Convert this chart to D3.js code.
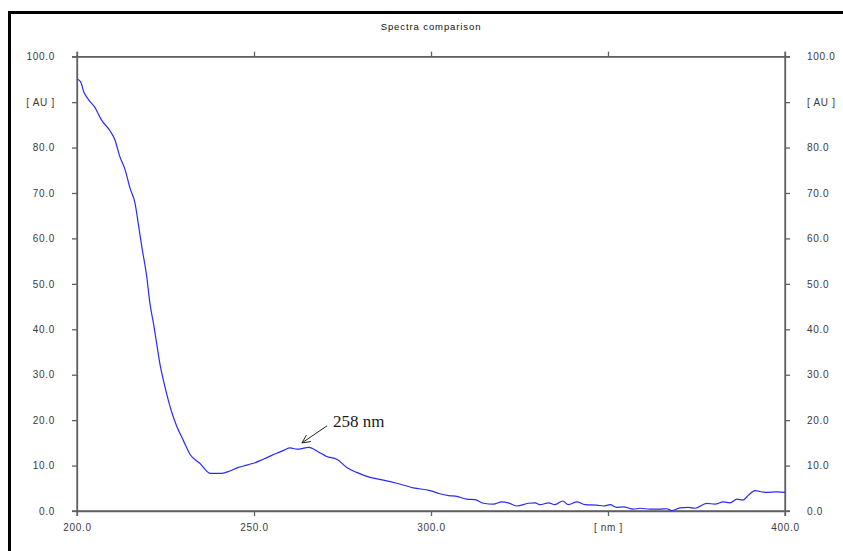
<!DOCTYPE html>
<html>
<head>
<meta charset="utf-8">
<script src="https://cdn.jsdelivr.net/npm/d3@7"></script>
<style>
  html, body { margin: 0; padding: 0; background: #fff; }
  svg { display: block; }
  .tick-label { font-family: "Liberation Sans", Arial, sans-serif; font-size: 10px; fill: #3a3a3a; letter-spacing: 0.7px; }
</style>
</head>
<body>
<script>
// Spectrum: wavelength [nm] and absorbance [AU]
const wavelengths = [
  200, 201, 201.9, 203.2, 205, 206.9, 209.3, 210.7, 212.1, 213.6, 215, 216.4, 217.3, 218.3,
  219.7, 220.6, 221.6, 222.5, 223.4, 224.4, 225.3, 226.7, 228.2, 230, 231.9, 234.7, 237.6,
  240.9, 243.2, 245.6, 247, 249.8, 252.6, 256.4, 258.5, 260.2, 262.1, 265.5, 268.2, 270.5,
  273.4, 276.2, 279, 282.8, 286.5, 290.3, 295, 299.7, 302.5, 305, 307.3, 310.1, 312.4, 314.8,
  317.6, 320, 321.8, 324.2, 327.5, 329.4, 330.8, 333.2, 335, 337.2, 338.8, 341.2, 343.5,
  346.8, 348.7, 350.6, 352.4, 354.3, 357.2, 359.1, 361.9, 364.7, 366.6, 368, 370.3, 372.7,
  374.6, 377.9, 380.2, 382.6, 384.5, 386.4, 388.1, 389.7, 391.5, 394.4, 397.7, 400
];
const absorbance = [
  95.1, 94.5, 92.3, 90.6, 88.9, 86.1, 83.7, 81.7, 78.0, 75.1, 71.0, 67.7, 63.3, 58.2,
  51.6, 45.7, 41.3, 36.9, 32.5, 28.8, 25.9, 21.9, 18.6, 15.6, 12.5, 10.5, 8.3,
  8.3, 8.8, 9.6, 9.9, 10.5, 11.4, 12.7, 13.4, 13.9, 13.6, 14.0, 13.0, 12.0,
  11.4, 9.6, 8.5, 7.4, 6.8, 6.1, 5.1, 4.5, 3.8, 3.4, 3.2, 2.6, 2.5, 1.7,
  1.5, 2.0, 1.8, 1.1, 1.7, 1.8, 1.4, 1.8, 1.4, 2.2, 1.4, 2.0, 1.4,
  1.3, 1.1, 1.4, 0.8, 0.9, 0.4, 0.6, 0.4, 0.4, 0.5, 0.1, 0.7, 0.8,
  0.6, 1.7, 1.5, 2.0, 1.8, 2.6, 2.4, 3.5, 4.5, 4.1, 4.2, 4.1
];

// Axis ticks and their labels
const yTicks = [0, 10, 20, 30, 40, 50, 60, 70, 80, 90, 100];
const yTickLabels = ["0.0", "10.0", "20.0", "30.0", "40.0", "50.0", "60.0", "70.0", "80.0", "[ AU ]", "100.0"];
const xTicks = [200, 250, 300, 350, 400];
const xTickLabels = ["200.0", "250.0", "300.0", "[ nm ]", "400.0"];

const chartTitle = "Spectra comparison";
const peakLabel = "258 nm";
const peakWavelength = 263.4;
const peakValue = 14.0;

const W = 843, H = 551;
const svg = d3.select("body").append("svg").attr("width", W).attr("height", H);

// Outer frame (top and left edges)
svg.append("rect").attr("x", 8).attr("y", 11).attr("width", W - 8).attr("height", 3).attr("fill", "#000");
svg.append("rect").attr("x", 8).attr("y", 11).attr("width", 3).attr("height", H - 11).attr("fill", "#000");

const x = d3.scaleLinear().domain([200, 400]).range([77, 785]);
const y = d3.scaleLinear().domain([0, 100]).range([511, 56.7]);

const axisColor = "#606060";
const tickLen = 5;

function styleAxis(g) {
  g.select(".domain").attr("stroke", axisColor).attr("stroke-width", 1.3);
  g.selectAll(".tick line").attr("stroke", axisColor).attr("stroke-width", 1.3);
  g.selectAll(".tick text").attr("class", "tick-label").attr("fill", null);
}

// Left axis
svg.append("g").attr("transform", `translate(${x(200)},0)`)
  .call(d3.axisLeft(y).tickValues(yTicks).tickSize(tickLen).tickSizeOuter(0).tickPadding(17)
    .tickFormat((d, i) => yTickLabels[i]))
  .call(styleAxis);

// Right axis
svg.append("g").attr("transform", `translate(${x(400)},0)`)
  .call(d3.axisRight(y).tickValues(yTicks).tickSize(tickLen).tickSizeOuter(0).tickPadding(17)
    .tickFormat((d, i) => yTickLabels[i]))
  .call(styleAxis);

// Bottom axis
svg.append("g").attr("transform", `translate(0,${y(0)})`)
  .call(d3.axisBottom(x).tickValues(xTicks).tickSize(tickLen).tickSizeOuter(0).tickPadding(8)
    .tickFormat((d, i) => xTickLabels[i]))
  .call(styleAxis);

// Top axis (ticks only)
svg.append("g").attr("transform", `translate(0,${y(100)})`)
  .call(d3.axisTop(x).tickValues(xTicks).tickSize(tickLen).tickSizeOuter(0).tickFormat(""))
  .call(styleAxis);

// Extend frame lines so the corners cross like the tick marks
const ext = [
  [x(200) - tickLen, y(100), x(400) + tickLen, y(100)],
  [x(200) - tickLen, y(0), x(400) + tickLen, y(0)],
  [x(200), y(100) - tickLen, x(200), y(0) + tickLen],
  [x(400), y(100) - tickLen, x(400), y(0) + tickLen]
];
svg.append("g").selectAll("line").data(ext).join("line")
  .attr("x1", d => d[0]).attr("y1", d => d[1]).attr("x2", d => d[2]).attr("y2", d => d[3])
  .attr("stroke", axisColor).attr("stroke-width", 1.3);

// Title
svg.append("text")
  .attr("x", (x(200) + x(400)) / 2).attr("y", 30)
  .attr("text-anchor", "middle")
  .attr("font-family", "Liberation Sans, Arial, sans-serif")
  .attr("font-size", 9.5).attr("letter-spacing", 0.9).attr("fill", "#111")
  .text(chartTitle);

// Spectrum line
const pts = wavelengths.map((w, i) => [w, absorbance[i]]);
svg.append("path")
  .datum(pts)
  .attr("fill", "none")
  .attr("stroke", "#2a2aff")
  .attr("stroke-width", 1.2)
  .attr("stroke-linejoin", "round")
  .attr("d", d3.line().x(d => x(d[0])).y(d => y(d[1])).curve(d3.curveMonotoneX));

// Peak annotation with arrow
const tipX = x(peakWavelength) + 0.5, tipY = y(peakValue) - 4.5;
const tailX = tipX + 25, tailY = tipY - 17;
svg.append("line")
  .attr("x1", tailX).attr("y1", tailY).attr("x2", tipX).attr("y2", tipY)
  .attr("stroke", "#222").attr("stroke-width", 1);
const ang = Math.atan2(tailY - tipY, tailX - tipX);
const headLen = 9, spread = 0.45;
svg.append("path")
  .attr("d", `M${tipX + headLen * Math.cos(ang - spread)},${tipY + headLen * Math.sin(ang - spread)}
              L${tipX},${tipY}
              L${tipX + headLen * Math.cos(ang + spread)},${tipY + headLen * Math.sin(ang + spread)}`)
  .attr("fill", "none").attr("stroke", "#222").attr("stroke-width", 1);
svg.append("text")
  .attr("x", tailX + 6).attr("y", tailY + 1)
  .attr("font-family", "Liberation Serif, Times New Roman, serif")
  .attr("font-size", 17).attr("fill", "#1a1a1a")
  .text(peakLabel);
</script>
</body>
</html>
